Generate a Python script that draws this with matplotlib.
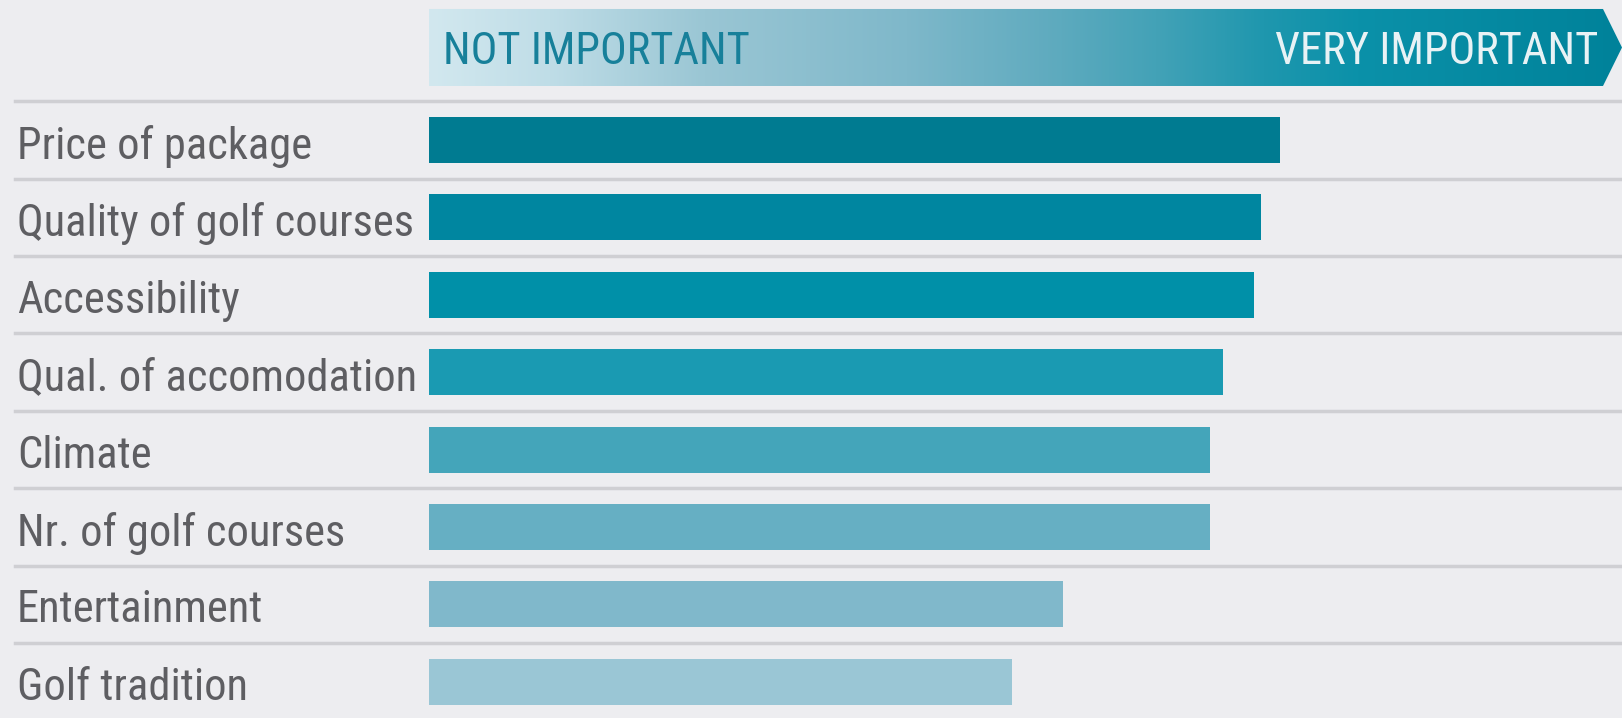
import matplotlib.pyplot as plt
import numpy as np
from matplotlib import font_manager
from matplotlib.colors import LinearSegmentedColormap
from matplotlib.patches import Polygon

factors = [
    "Price of package",
    "Quality of golf courses",
    "Accessibility",
    "Qual. of accomodation",
    "Climate",
    "Nr. of golf courses",
    "Entertainment",
    "Golf tradition",
]
importance = [72.5, 70.9, 70.3, 67.6, 66.5, 66.5, 54.0, 49.7]
bar_colors = ["#007b91", "#0086a0", "#0090a8", "#1a9ab2",
              "#44a5ba", "#66afc3", "#80b8cb", "#9ac6d5"]
scale_low = "NOT IMPORTANT"
scale_high = "VERY IMPORTANT"

names = {f.name for f in font_manager.fontManager.ttflist}
FONT = "DejaVu Sans"
for cand in ["Roboto Condensed", "Archivo Narrow", "PT Sans Narrow",
             "Fira Sans Condensed", "Barlow Semi Condensed", "Liberation Sans Narrow"]:
    if cand in names:
        FONT = cand
        break
plt.rcParams["font.family"] = [FONT, "DejaVu Sans"]

BG = "#ededf0"
fig = plt.figure(figsize=(16.22, 7.18), dpi=100, facecolor=BG)
ax = fig.add_axes([0, 0, 1, 1])
ax.set_facecolor(BG)

# pick a font size so the longest label is about 396 px wide
renderer = fig.canvas.get_renderer()
probe = fig.text(0, 0, "Quality of golf courses", fontsize=30)
w = probe.get_window_extent(renderer).width
probe.remove()
FS = 30 * 396 / w

# 100 units = header length (pixels 429..1603), rows spaced 77.4 px
ax.set_xlim(-429 / 11.74, (1622 - 429) / 11.74)
ax.set_ylim(7.468, -1.809)
ax.axis("off")

y = np.arange(len(factors))
ax.barh(y, importance, height=0.594, color=bar_colors, zorder=2)

x_line = -35.26
for i in y:
    ax.plot([x_line, 200], [i - 0.5, i - 0.5], color="#cfcfd3", lw=2.5, zorder=1)
    ax.text(-35.09, i + 0.02, factors[i], ha="left", va="center_baseline",
            fontsize=FS, color="#5e5e62")

# header arrow with gradient
top, bot = -1.693, -0.698
tip = (1622 - 429) / 11.74
arrow = Polygon([(0, top), (100, top), (tip, (top + bot) / 2), (100, bot), (0, bot)],
                closed=True, facecolor="none", edgecolor="none")
ax.add_patch(arrow)
cmap = LinearSegmentedColormap.from_list(
    "hdr", [(0, "#d2e8ef"), (0.1, "#bfdde7"), (0.23, "#9ac6d4"),
            (0.40, "#7fb8ca"), (0.53, "#5daabe"), (0.61, "#43a2b7"),
            (0.70, "#1f97ae"), (0.78, "#0b91a9"), (1, "#00829a")])
grad = np.linspace(0, 1, 512).reshape(1, -1)
im = ax.imshow(grad, cmap=cmap, extent=(0, tip, bot, top), aspect="auto",
               interpolation="bicubic", zorder=3)
im.set_clip_path(arrow)
ax.text(1.2, (top + bot) / 2, scale_low, ha="left", va="center_baseline",
        fontsize=FS, color="#17809a", zorder=4)
ax.text(99.6, (top + bot) / 2, scale_high, ha="right", va="center_baseline",
        fontsize=FS, color="#e8f2f5", zorder=4)

ax.set_xlim(-429 / 11.74, (1622 - 429) / 11.74)
ax.set_ylim(7.468, -1.809)

fig.savefig("out.png", dpi=100, facecolor=BG)
